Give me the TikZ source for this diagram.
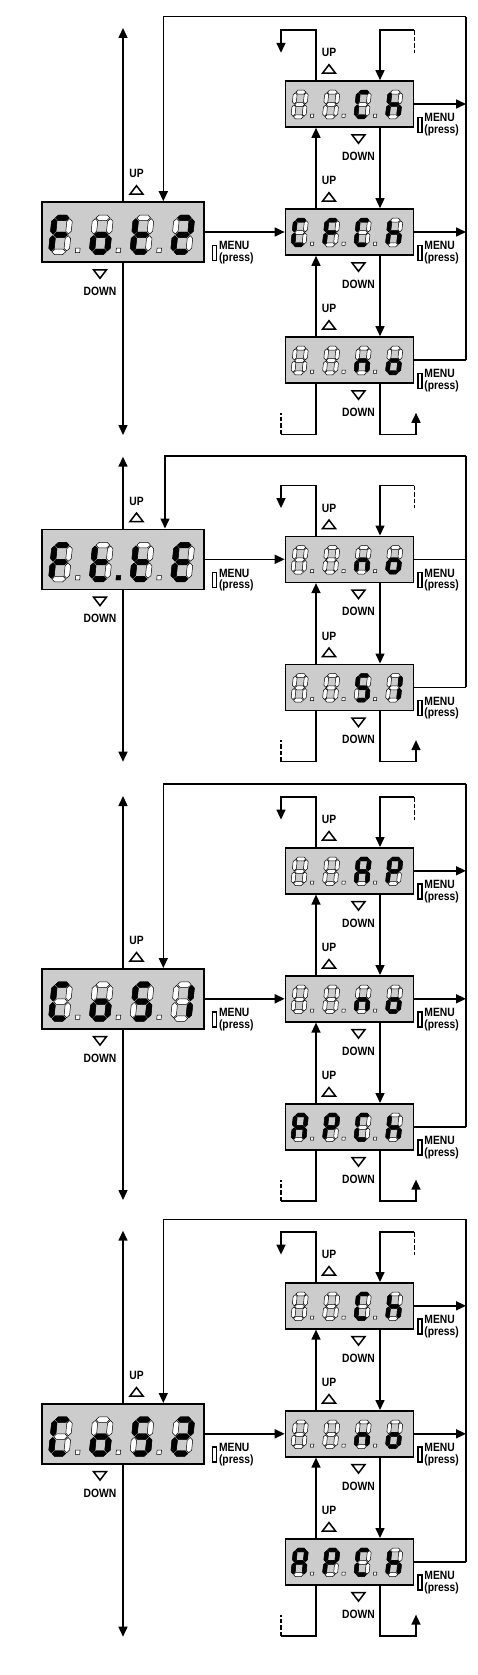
\documentclass[tikz,border=0pt]{standalone}
\usepackage{fontspec}
\setmainfont{Liberation Sans}[FakeStretch=0.86]
\usetikzlibrary{positioning,calc,arrows.meta}

\tikzset{
  bigdisp/.style={draw, line width=1.6pt, fill=gray!40, minimum width=162pt, minimum height=60pt, inner sep=0pt},
  smalldisp/.style={bigdisp, minimum width=128pt, minimum height=46pt},
  segon/.style={draw=black, fill=black, line width=0.3pt},
  segoff/.style={draw=black, fill=white, line width=0.5pt},
  wire/.style={line width=1.5pt},
  rail/.style={line width=2.5pt},
  flow/.style={wire, -{Triangle[length=10pt, width=9pt]}},
  dashedwire/.style={wire, dash pattern=on 4.5pt off 2pt},
  keytxt/.style={font=\bfseries\fontsize{12}{11.5}\selectfont, inner sep=0pt},
  keybox/.style={draw, line width=1.5pt, minimum width=4pt, minimum height=15pt, inner sep=0pt},
  uptri/.pic={\draw[line width=1.5pt] (-6.5,-4) -- (6.5,-4) -- (0,4.5) -- cycle;},
  downtri/.pic={\draw[line width=1.5pt] (-6.5,4) -- (6.5,4) -- (0,-4.5) -- cycle;}
}

% segments of one digit (digit height 2, width 0.9)
\newcommand{\segA}[1]{\draw[#1] (0.05,2) -- ++(0.16,0.16) -- ++(0.48,0) -- ++(0.16,-0.16) -- ++(-0.16,-0.16) -- ++(-0.48,0) -- cycle;}
\newcommand{\segG}[1]{\draw[#1] (0.05,1) -- ++(0.16,0.16) -- ++(0.48,0) -- ++(0.16,-0.16) -- ++(-0.16,-0.16) -- ++(-0.48,0) -- cycle;}
\newcommand{\segD}[1]{\draw[#1] (0.05,0) -- ++(0.16,0.16) -- ++(0.48,0) -- ++(0.16,-0.16) -- ++(-0.16,-0.16) -- ++(-0.48,0) -- cycle;}
\newcommand{\segB}[1]{\draw[#1] (0.9,1.05) -- ++(0.16,0.16) -- ++(0,0.58) -- ++(-0.16,0.16) -- ++(-0.16,-0.16) -- ++(0,-0.58) -- cycle;}
\newcommand{\segC}[1]{\draw[#1] (0.9,0.05) -- ++(0.16,0.16) -- ++(0,0.58) -- ++(-0.16,0.16) -- ++(-0.16,-0.16) -- ++(0,-0.58) -- cycle;}
\newcommand{\segF}[1]{\draw[#1] (0,1.05) -- ++(0.16,0.16) -- ++(0,0.58) -- ++(-0.16,0.16) -- ++(-0.16,-0.16) -- ++(0,-0.58) -- cycle;}
\newcommand{\segE}[1]{\draw[#1] (0,0.05) -- ++(0.16,0.16) -- ++(0,0.58) -- ++(-0.16,0.16) -- ++(-0.16,-0.16) -- ++(0,-0.58) -- cycle;}
\newcommand{\segP}[1]{\draw[#1] (1.42,-0.05) rectangle ++(0.26,0.26);}
\newcommand{\segX}[1]{}

% display node, digit size, pitch, left margin, lit segments of the four digits
\newcommand{\readout}[5]{%
  \foreach \segs [count=\i from 0] in {#5} {
    \begin{scope}[shift={($(#1.south west)+(#4+\i*#3,11)$)}, scale=#2, xslant=0.1]
      \foreach \s in {A,B,C,D,E,F,G} {\csname seg\s\endcsname{segoff}}
      \ifnum\i<3 \segP{segoff}\fi
      \foreach \s in \segs {\csname seg\s\endcsname{segon}}
    \end{scope}
  }%
}

% UP over a display, DOWN under it
\newcommand{\updown}[3]{%
  \pic at ([xshift=#2, yshift=11pt]#1.north) {uptri};
  \node[keytxt] (#1up) at ([xshift=#2, yshift=27.5pt]#1.north) {UP};
  \pic at ([xshift=#3, yshift=-11pt]#1.south) {downtri};
  \node[keytxt] (#1dn) at ([xshift=#3, yshift=-28.5pt]#1.south) {DOWN};
}

% MENU key beside a display
\newcommand{\menukey}[3]{%
  \node[keybox] (#1key) at ([xshift=#2, yshift=#3]#1.south east) {};
  \node[keytxt, align=left, anchor=west] (#1menu) at ([xshift=1.5pt]#1key.east) {MENU\\(press)};
}

% loops leaving the top of the first value and the bottom of the last one
\newcommand{\toploops}[1]{%
  \draw[flow] ([xshift=-33.5pt]#1.north) -- ++(0,50) -| ++(-35,-22.6);
  \draw[dashedwire] ([xshift=64.8pt, yshift=50pt]#1.north) -- ++(0,-22.6);
  \draw[flow] ([xshift=64.8pt, yshift=50pt]#1.north) -| ([xshift=30.5pt]#1.north);
}
\newcommand{\bottomloops}[1]{%
  \draw[wire] ([xshift=-33.5pt]#1.south) |- ++(-35,-50.6) coordinate (#1end);
  \draw[dashedwire] (#1end) -- ++(0,21.6);
  \draw[flow] ([xshift=30.5pt]#1.south) |- ++(36,-50.6) -- ++(0,21.6);
}

\begin{document}
\begin{tikzpicture}[x=1pt, y=1pt]
\useasboundingbox (0,0) rectangle (477,-1675);

% ---- FoT2
\node[bigdisp] (fot) at (123,-232) {};
\node[smalldisp] (cfch) at (349.5,-232) {};
\node[smalldisp, above=80.4pt of cfch] (ch1) {};
\node[smalldisp, below=80.4pt of cfch] (no1) {};
\readout{fot}{17}{40.7}{10}{{A,E,F,G},{C,D,E,G},{D,E,F,G},{A,B,D,E,G}}
\readout{ch1}{12.3}{31.5}{8.2}{{X},{X},{A,D,E,F},{C,E,F,G}}
\readout{cfch}{12.3}{31.5}{8.2}{{A,D,E,F},{A,E,F,G},{A,D,E,F},{C,E,F,G}}
\readout{no1}{12.3}{31.5}{8.2}{{X},{X},{C,E,G},{C,D,E,G}}
\coordinate (up1) at (123,-28);
\coordinate (dn1) at (123,-435);
\coordinate (rail1) at (466,-16.7);
\draw[flow] (fot.north) -- (up1);
\draw[flow] (fot.south) -- (dn1);
\draw[flow] (fot.east) -- (cfch.west);
\draw[flow] (ch1.east) -- (ch1.east -| rail1);
\draw[flow] (cfch.east) -- (cfch.east -| rail1);
\draw[wire] (no1.east) -- (no1.east -| rail1);
\draw[rail] (no1.east -| rail1) -- (rail1);
\draw[flow] (rail1) -| ([xshift=40.3pt]fot.north);
\draw[flow] ([xshift=-33.5pt]cfch.north) -- ([xshift=-33.5pt]ch1.south);
\draw[flow] ([xshift=30.5pt]ch1.south) -- ([xshift=30.5pt]cfch.north);
\draw[flow] ([xshift=-33.5pt]no1.north) -- ([xshift=-33.5pt]cfch.south);
\draw[flow] ([xshift=30.5pt]cfch.south) -- ([xshift=30.5pt]no1.north);
\toploops{ch1}
\bottomloops{no1}
\updown{fot}{13.5pt}{-23pt}
\updown{ch1}{-20.5pt}{9pt}
\updown{cfch}{-20.5pt}{9pt}
\updown{no1}{-20.5pt}{9pt}
\menukey{fot}{9.8pt}{10pt}
\menukey{ch1}{5.7pt}{3pt}
\menukey{cfch}{5.7pt}{3pt}
\menukey{no1}{5.7pt}{3pt}

% ---- Ft.tE
\node[bigdisp] (ftte) at (123,-559.3) {};
\node[smalldisp] (no2) at (349.5,-559.3) {};
\node[smalldisp, below=80.4pt of no2] (si2) {};
\readout{ftte}{17}{40.7}{10}{{A,E,F,G},{D,E,F,G,P},{D,E,F,G},{A,D,E,F,G}}
\readout{no2}{12.3}{31.5}{8.2}{{X},{X},{C,E,G},{C,D,E,G}}
\readout{si2}{12.3}{31.5}{8.2}{{X},{X},{A,C,D,F,G},{B,C}}
\coordinate (up2) at (123,-456.7);
\coordinate (dn2) at (123,-761.7);
\coordinate (rail2) at (466,-456);
\draw[flow] (ftte.north) -- (up2);
\draw[flow] (ftte.south) -- (dn2);
\draw[flow] (ftte.east) -- (no2.west);
\draw[wire] (no2.east) -- (no2.east -| rail2);
\draw[wire] (si2.east) -- (si2.east -| rail2);
\draw[rail] (si2.east -| rail2) -- (rail2);
\draw[flow] (rail2) -| ([xshift=42pt]ftte.north);
\draw[flow] ([xshift=-33.5pt]si2.north) -- ([xshift=-33.5pt]no2.south);
\draw[flow] ([xshift=30.5pt]no2.south) -- ([xshift=30.5pt]si2.north);
\toploops{no2}
\bottomloops{si2}
\updown{ftte}{13.5pt}{-23pt}
\updown{no2}{-20.5pt}{9pt}
\updown{si2}{-20.5pt}{9pt}
\menukey{ftte}{9.8pt}{10pt}
\menukey{no2}{5.7pt}{3pt}
\menukey{si2}{5.7pt}{3pt}

% ---- CoS1
\node[bigdisp] (cos1) at (123,-998.8) {};
\node[smalldisp] (no3) at (349.5,-998.8) {};
\node[smalldisp, above=80.4pt of no3] (ap3) {};
\node[smalldisp, below=80.4pt of no3] (apch3) {};
\readout{cos1}{17}{40.7}{10}{{A,D,E,F},{C,D,E,G},{A,C,D,F,G},{B,C}}
\readout{ap3}{12.3}{31.5}{8.2}{{X},{X},{A,B,C,E,F,G},{A,B,E,F,G}}
\readout{no3}{12.3}{31.5}{8.2}{{X},{X},{C,E,G},{C,D,E,G}}
\readout{apch3}{12.3}{31.5}{8.2}{{A,B,C,E,F,G},{A,B,E,F,G},{A,D,E,F},{C,E,F,G}}
\coordinate (up3) at (123,-796);
\coordinate (dn3) at (123,-1200);
\coordinate (rail3) at (466,-784);
\draw[flow] (cos1.north) -- (up3);
\draw[flow] (cos1.south) -- (dn3);
\draw[flow] (cos1.east) -- (no3.west);
\draw[flow] (ap3.east) -- (ap3.east -| rail3);
\draw[flow] (no3.east) -- (no3.east -| rail3);
\draw[wire] (apch3.east) -- (apch3.east -| rail3);
\draw[rail] (apch3.east -| rail3) -- (rail3);
\draw[flow] (rail3) -| ([xshift=40.3pt]cos1.north);
\draw[flow] ([xshift=-33.5pt]no3.north) -- ([xshift=-33.5pt]ap3.south);
\draw[flow] ([xshift=30.5pt]ap3.south) -- ([xshift=30.5pt]no3.north);
\draw[flow] ([xshift=-33.5pt]apch3.north) -- ([xshift=-33.5pt]no3.south);
\draw[flow] ([xshift=30.5pt]no3.south) -- ([xshift=30.5pt]apch3.north);
\toploops{ap3}
\bottomloops{apch3}
\updown{cos1}{13.5pt}{-23pt}
\updown{ap3}{-20.5pt}{9pt}
\updown{no3}{-20.5pt}{9pt}
\updown{apch3}{-20.5pt}{9pt}
\menukey{cos1}{9.8pt}{10pt}
\menukey{ap3}{5.7pt}{3pt}
\menukey{no3}{5.7pt}{3pt}
\menukey{apch3}{5.7pt}{3pt}

% ---- CoS2
\node[bigdisp] (cos2) at (123,-1433.8) {};
\node[smalldisp] (no4) at (349.5,-1433.8) {};
\node[smalldisp, above=80.4pt of no4] (ch4) {};
\node[smalldisp, below=80.4pt of no4] (apch4) {};
\readout{cos2}{17}{40.7}{10}{{A,D,E,F},{C,D,E,G},{A,C,D,F,G},{A,B,D,E,G}}
\readout{ch4}{12.3}{31.5}{8.2}{{X},{X},{A,D,E,F},{C,E,F,G}}
\readout{no4}{12.3}{31.5}{8.2}{{X},{X},{C,E,G},{C,D,E,G}}
\readout{apch4}{12.3}{31.5}{8.2}{{A,B,C,E,F,G},{A,B,E,F,G},{A,D,E,F},{C,E,F,G}}
\coordinate (up4) at (123,-1230.7);
\coordinate (dn4) at (123,-1636.7);
\coordinate (rail4) at (466,-1219.3);
\draw[flow] (cos2.north) -- (up4);
\draw[flow] (cos2.south) -- (dn4);
\draw[flow] (cos2.east) -- (no4.west);
\draw[flow] (ch4.east) -- (ch4.east -| rail4);
\draw[flow] (no4.east) -- (no4.east -| rail4);
\draw[wire] (apch4.east) -- (apch4.east -| rail4);
\draw[rail] (apch4.east -| rail4) -- (rail4);
\draw[flow] (rail4) -| ([xshift=40.3pt]cos2.north);
\draw[flow] ([xshift=-33.5pt]no4.north) -- ([xshift=-33.5pt]ch4.south);
\draw[flow] ([xshift=30.5pt]ch4.south) -- ([xshift=30.5pt]no4.north);
\draw[flow] ([xshift=-33.5pt]apch4.north) -- ([xshift=-33.5pt]no4.south);
\draw[flow] ([xshift=30.5pt]no4.south) -- ([xshift=30.5pt]apch4.north);
\toploops{ch4}
\bottomloops{apch4}
\updown{cos2}{13.5pt}{-23pt}
\updown{ch4}{-20.5pt}{9pt}
\updown{no4}{-20.5pt}{9pt}
\updown{apch4}{-20.5pt}{9pt}
\menukey{cos2}{9.8pt}{10pt}
\menukey{ch4}{5.7pt}{3pt}
\menukey{no4}{5.7pt}{3pt}
\menukey{apch4}{5.7pt}{3pt}
\end{tikzpicture}
\end{document}
